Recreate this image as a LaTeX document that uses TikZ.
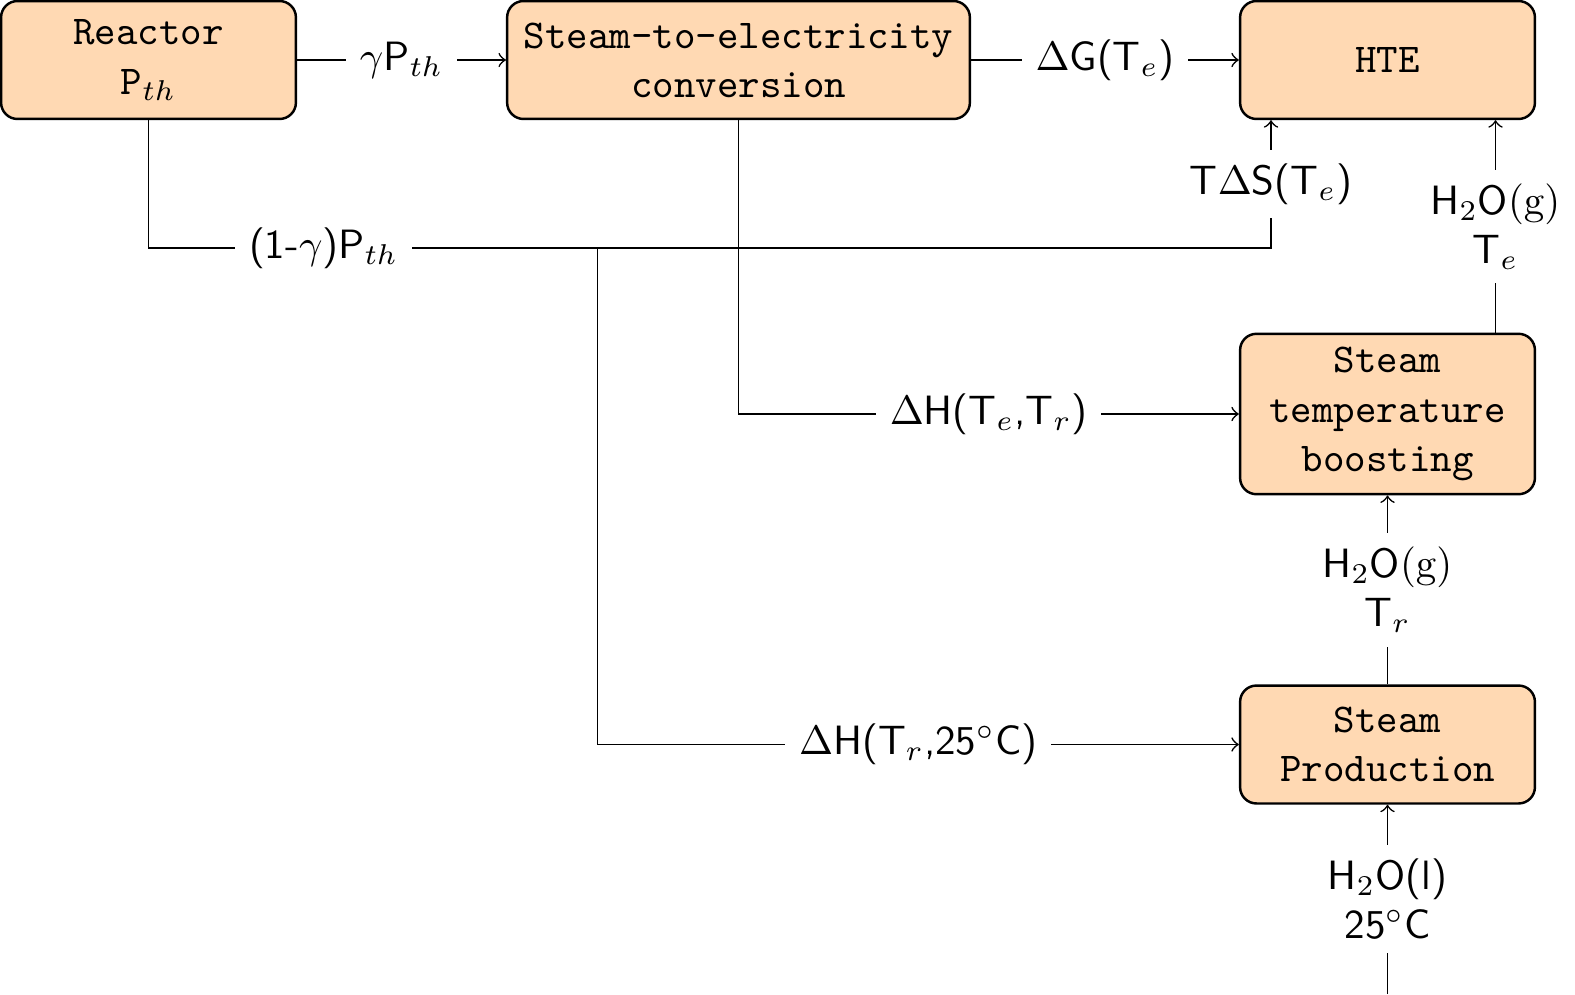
\documentclass[tikz,border=0pt]{standalone}
\usetikzlibrary{calc}
\definecolor{boxfill}{RGB}{255,217,179}
\begin{document}
\begin{tikzpicture}[x=0.2442pt,y=-0.2442pt,>=to,
  box/.style={draw, semithick, fill=boxfill, rounded corners=4pt, font=\ttfamily, align=center, minimum width=72pt, minimum height=28.8pt},
  lab/.style={fill=white, font=\sffamily, align=center}]
\useasboundingbox (0,0) rectangle (1575,994);
\node[box] (reactor) at (148.5,60) {Reactor\\P$_{th}$};
\node[box, minimum width=113pt] (conv) at (738.5,60) {Steam-to-electricity\\conversion};
\node[box] (hte) at (1387.5,60) {HTE};
\node[box] (boost) at (1387.5,414) {Steam\\temperature\\boosting};
\node[box] (prod) at (1387.5,744.5) {Steam\\Production};
\coordinate (rc) at (148.5,248);
\coordinate (ts) at (1271,248);
\coordinate (br) at (597.5,248);
\coordinate (in) at (1387.5,994);
\draw[->] (reactor.east) -- node[lab]{$\gamma$P$_{th}$} (conv.west);
\draw[->] (conv.east) -- node[lab]{$\Delta$G(T$_e$)} (hte.west);
\draw[->] (reactor.south) -- (rc) -- node[lab,pos=0.156]{(1-$\gamma$)P$_{th}$} (ts) -- node[lab]{T$\Delta$S(T$_e$)} (ts |- hte.south);
\draw[->] (br) |- node[lab,pos=0.75]{$\Delta$H(T$_r$,25$^\circ$C)} (prod.west);
\draw[->] (conv.south) |- node[lab,pos=0.75]{$\Delta$H(T$_e$,T$_r$)} (boost.west);
\draw[->] ($(boost.north)+(108,0)$) -- node[lab]{H$_2$O$(\mathrm{g})$\\T$_e$} ($(hte.south)+(108,0)$);
\draw[->] (prod.north) -- node[lab]{H$_2$O$(\mathrm{g})$\\T$_r$} (boost.south);
\draw[->] (in) -- node[lab]{H$_2$O(l)\\25$^\circ$C} (prod.south);
\end{tikzpicture}
\end{document}
